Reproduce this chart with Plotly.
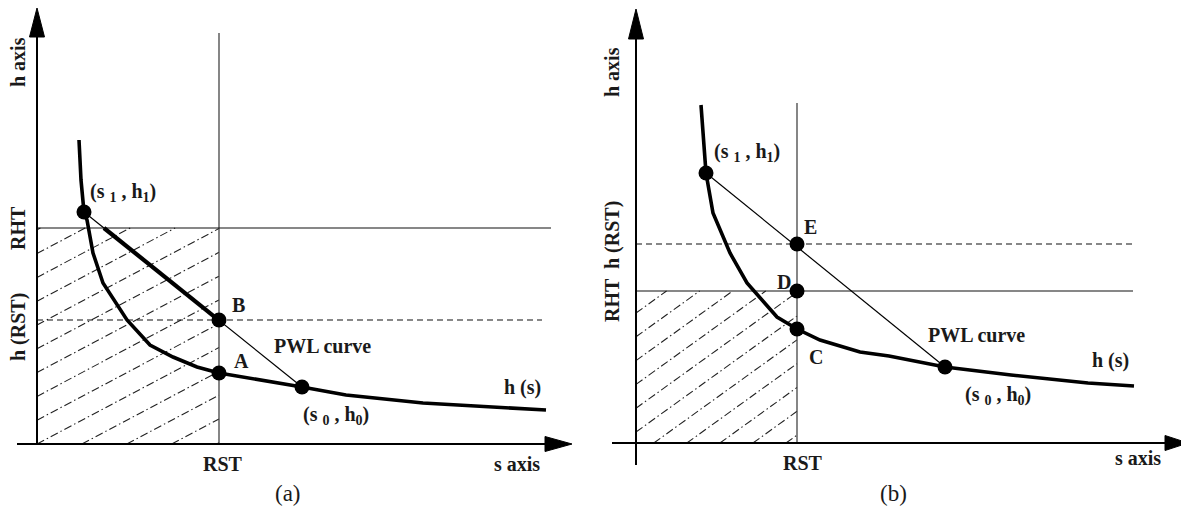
import numpy as np
import plotly.graph_objects as go

# ---------------- data (panel units: 1 unit ~ 1 px, origin at axes corner) ----------------
# Panel (a)
curve_a_s = [42, 44, 47, 50, 56, 66, 90, 113, 136, 160, 182, 201, 265, 309, 386, 509]
curve_a_h = [304, 264, 232, 224, 191, 161, 124, 99, 87, 77, 71, 68, 57, 49, 41, 34]
pts_a_names = ["s1", "B", "A", "s0"]
pts_a_s = [47, 182, 182, 265]
pts_a_h = [232, 124, 71, 57]
rst_a = 182
rht_a = 216
hrst_a = 124

# Panel (b)
curve_b_s = [65, 67, 70, 77, 94, 111, 141, 161, 184, 224, 253, 309, 375, 452, 498]
curve_b_h = [338, 313, 270, 230, 190, 160, 126, 114, 103, 91, 87, 76, 68, 60, 57]
pts_b_names = ["s1", "E", "D", "C", "s0"]
pts_b_s = [70, 161, 161, 161, 309]
pts_b_h = [270, 199, 152, 114, 76]
rst_b = 161
rht_b = 152
hrst_b = 199

FONT = "Liberation Serif, Times New Roman, serif"
fig = go.Figure()

def line(xa, ya, xs, hs, width=1.0, color="black", dash="solid"):
    fig.add_trace(go.Scatter(x=xs, y=hs, mode="lines", xaxis=xa, yaxis=ya,
                             line=dict(color=color, width=width, dash=dash),
                             hoverinfo="skip", showlegend=False))

def tri(xa, ya, xs, hs):
    fig.add_trace(go.Scatter(x=xs, y=hs, mode="lines", fill="toself", fillcolor="black",
                             xaxis=xa, yaxis=ya, line=dict(color="black", width=1),
                             hoverinfo="skip", showlegend=False))

def hatch(xa, ya, W, H, m, c0, step):
    xs, hs = [], []
    for k in np.arange(-60, 60):
        c = c0 + k * step
        cand = []
        for s in (0.0, W):
            h = c + m * s
            if 0 <= h <= H:
                cand.append((s, h))
        for h in (0.0, H):
            s = (h - c) / m
            if 0 <= s <= W:
                cand.append((s, h))
        if len(cand) >= 2:
            cand.sort()
            (sa, ha), (sb, hb) = cand[0], cand[-1]
            if sb - sa > 1:
                xs += [sa, sb, None]
                hs += [ha, hb, None]
    fig.add_trace(go.Scatter(x=xs, y=hs, mode="lines", xaxis=xa, yaxis=ya,
                             line=dict(color="#222", width=1.1, dash="8px,3px,1.5px,3px"),
                             hoverinfo="skip", showlegend=False))

def panel(xa, ya, cs, ch, ps, ph, names, rst, rht, hrst, rst_top, rht_end, dash_end,
          yax_bottom, xax_left, ytip, ybase, xtip, xbase, hm, hc0, pwl_thick):
    hatch(xa, ya, rst, rht, hm, hc0, 23.8)
    line(xa, ya, [rst, rst], [0, rst_top], width=1.3, color="#444")
    line(xa, ya, [0, rht_end], [rht, rht], width=1.1, color="#111")
    line(xa, ya, [0, dash_end], [hrst, hrst], width=1.1, color="#111", dash="6px,4px")
    i1, i0 = names.index("s1"), names.index("s0")
    line(xa, ya, [ps[i1], ps[i0]], [ph[i1], ph[i0]], width=1.2)
    if pwl_thick:
        slope = (ph[i0] - ph[i1]) / (ps[i0] - ps[i1])
        s_start = ps[i1] + (rht - ph[i1]) / slope
        line(xa, ya, [s_start, rst], [rht, ph[i1] + slope * (rst - ps[i1])], width=4.2)
    line(xa, ya, cs, ch, width=3.6)
    line(xa, ya, [0, 0], [yax_bottom, ybase], width=2)
    line(xa, ya, [xax_left, xbase], [0, 0], width=2)
    tri(xa, ya, [-7.5, 7.5, 0, -7.5], [ybase, ybase, ytip, ybase])
    tri(xa, ya, [xbase, xbase, xtip, xbase], [-7.5, 7.5, 0, -7.5])
    fig.add_trace(go.Scatter(x=ps, y=ph, mode="markers", xaxis=xa, yaxis=ya,
                             marker=dict(color="black", size=15),
                             hoverinfo="skip", showlegend=False))

panel("x", "y", curve_a_s, curve_a_h, pts_a_s, pts_a_h, pts_a_names, rst_a, rht_a, hrst_a,
      411, 514, 505, 0, -20, 436, 407, 535, 508, 0.53, 0.0, True)
panel("x2", "y2", curve_b_s, curve_b_h, pts_b_s, pts_b_h, pts_b_names, rst_b, rht_b, hrst_b,
      340, 497, 499, -22, -24, 434, 404, 552, 529, 0.72, 11.0, False)

S1 = "(s <sub>1</sub> , h<sub>1</sub>)"
S0 = "(s <sub>0</sub> , h<sub>0</sub>)"
labels_a = [(S1, 86, 252), ("B", 201, 139), ("A", 204, 83), ("PWL curve", 285, 98),
            ("h (s)", 485, 57), (S0, 299, 29), ("RST", 186, -20), ("s axis", 480, -20)]
labels_b = [(S1, 111, 291), ("E", 174, 216), ("D", 148, 161), ("C", 180, 86),
            ("PWL curve", 340, 108), ("h (s)", 474, 83), (S0, 362, 48),
            ("RST", 167, -20), ("s axis", 502, -15)]
vlabels_a = [("h axis", -19, 382), ("RHT", -19, 216), ("h (RST)", -19, 117)]
vlabels_b = [("h axis", -24, 371), ("RHT  h (RST)", -24, 181)]
captions = [("(a)", "x", "y", 251, -49), ("(b)", "x2", "y2", 257, -50)]

anns = []
for xa, ya, labs in (("x", "y", labels_a), ("x2", "y2", labels_b)):
    for t, sx, hy in labs:
        anns.append(dict(text="<b>" + t + "</b>", x=sx, y=hy, xref=xa, yref=ya, showarrow=False,
                         font=dict(family=FONT, size=20, color="#1a1a1a")))
for xa, ya, labs in (("x", "y", vlabels_a), ("x2", "y2", vlabels_b)):
    for t, sx, hy in labs:
        anns.append(dict(text="<b>" + t + "</b>", x=sx, y=hy, xref=xa, yref=ya, showarrow=False,
                         textangle=-90, font=dict(family=FONT, size=20, color="#1a1a1a")))
for t, xa, ya, sx, hy in captions:
    anns.append(dict(text=t, x=sx, y=hy, xref=xa, yref=ya, showarrow=False,
                     font=dict(family=FONT, size=23, color="#1a1a1a")))

# page body has an 8px margin: figure is 8px smaller and ranges are shifted to compensate
ax_common = dict(visible=False, showgrid=False, zeroline=False, fixedrange=True)
fig.update_layout(
    width=1181, height=499,
    margin=dict(l=0, r=0, t=0, b=0),
    paper_bgcolor="white", plot_bgcolor="white",
    xaxis=dict(domain=[0, 0.5], range=[-29, 561.5], **ax_common),
    yaxis=dict(domain=[0, 1], range=[-63, 436], **ax_common),
    xaxis2=dict(domain=[0.5, 1], range=[-37.5, 553], anchor="y2", **ax_common),
    yaxis2=dict(domain=[0, 1], range=[-64, 435], anchor="x2", **ax_common),
    annotations=anns,
)
fig.write_html("out.html")
